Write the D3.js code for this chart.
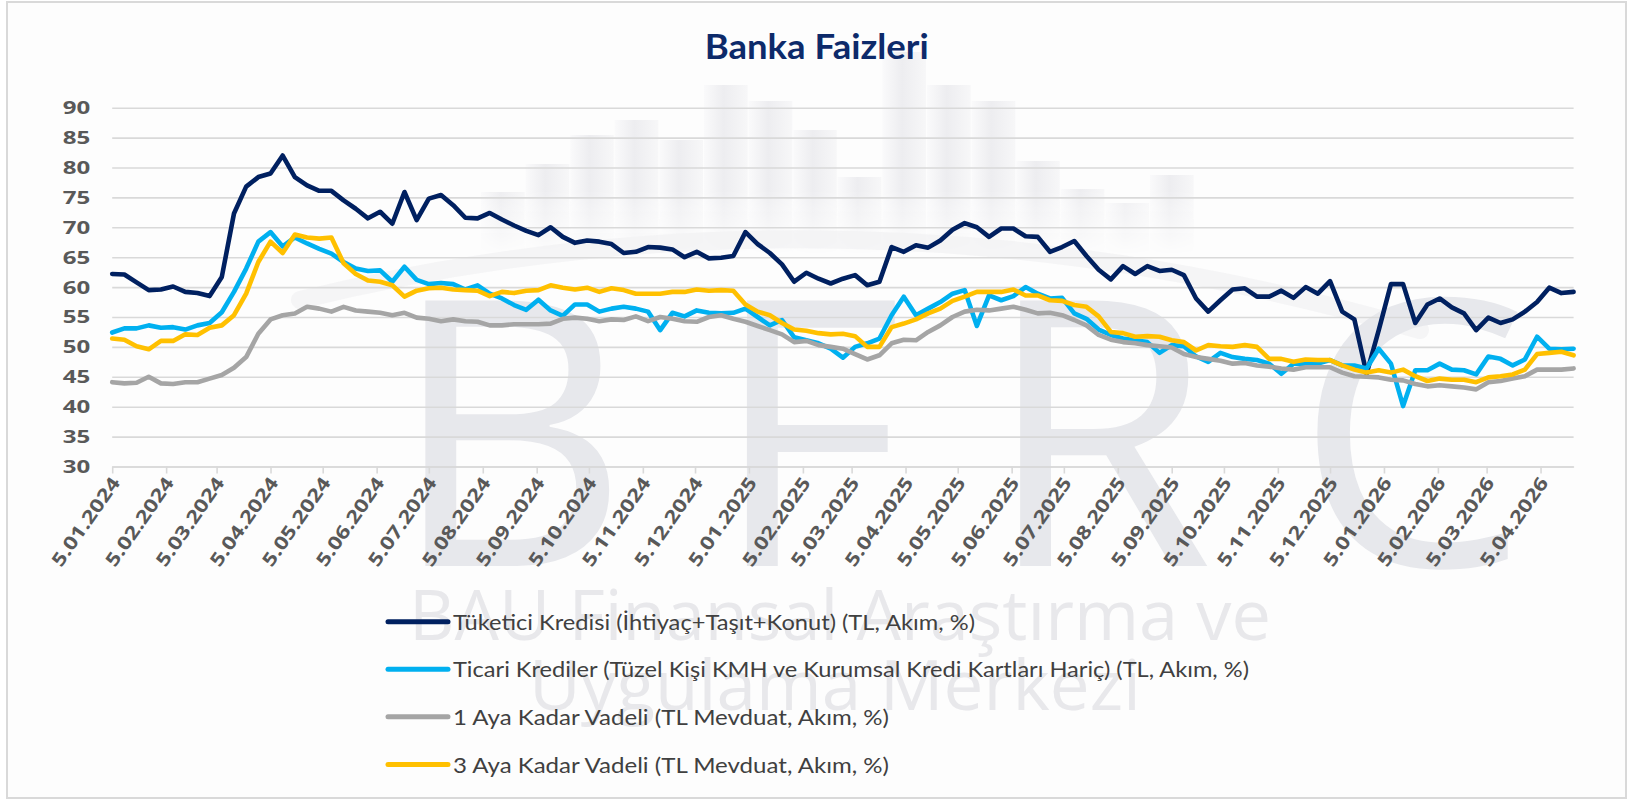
<!DOCTYPE html>
<html>
<head>
<meta charset="utf-8">
<script src="https://cdn.jsdelivr.net/npm/d3@7"></script>
<style>
  html, body { margin: 0; padding: 0; background: #ffffff; }
  svg { display: block; }
</style>
</head>
<body>
<svg id="chart" width="1630" height="802"></svg>
<script>
// Weekly observations (Fridays), first and last week
const firstWeek = "2024-01-05";
const lastWeek = "2026-04-24";

// Month labels on the date axis
const tickLabels = [
  "5.01.2024","5.02.2024","5.03.2024","5.04.2024","5.05.2024","5.06.2024",
  "5.07.2024","5.08.2024","5.09.2024","5.10.2024","5.11.2024","5.12.2024",
  "5.01.2025","5.02.2025","5.03.2025","5.04.2025","5.05.2025","5.06.2025",
  "5.07.2025","5.08.2025","5.09.2025","5.10.2025","5.11.2025","5.12.2025",
  "5.01.2026","5.02.2026","5.03.2026","5.04.2026"
];

const yTicks = [30, 35, 40, 45, 50, 55, 60, 65, 70, 75, 80, 85, 90];

const seriesNames = [
  "Tüketici Kredisi (İhtiyaç+Taşıt+Konut) (TL, Akım, %)",
  "Ticari Krediler (Tüzel Kişi KMH ve Kurumsal Kredi Kartları Hariç) (TL, Akım, %)",
  "1 Aya Kadar Vadeli (TL Mevduat, Akım, %)",
  "3 Aya Kadar Vadeli (TL Mevduat, Akım, %)"
];

// Weekly rates, %
const tuketici = [
  62.2,62.1,60.8,59.5,59.6,60.1,59.2,59.0,58.5,61.7,72.3,76.8,78.4,79.0,82.0,78.4,77.0,76.1,76.1,74.5,73.1,71.5,72.6,70.6,75.9,71.2,
  74.8,75.4,73.7,71.6,71.5,72.4,71.3,70.3,69.4,68.7,70.0,68.4,67.4,67.8,67.6,67.2,65.7,65.9,66.7,66.6,66.3,65.0,65.9,64.8,64.9,
  65.2,69.2,67.2,65.7,63.8,60.9,62.4,61.4,60.6,61.4,62.0,60.3,60.9,66.7,65.9,67.0,66.6,67.8,69.6,70.7,70.0,68.4,69.8,69.8,68.5,
  68.4,65.9,66.7,67.7,65.2,62.9,61.3,63.5,62.2,63.5,62.7,62.9,62.0,58.1,55.9,57.8,59.6,59.8,58.4,58.4,59.4,58.2,
  60.0,58.9,61.0,55.9,54.6,45.5,52.8,60.5,60.5,54.0,57.1,58.1,56.6,55.6,52.8,54.9,54.0,54.6,55.9,57.5,59.9,59.0,59.2
];
const ticari = [
  52.4,53.1,53.1,53.6,53.2,53.3,52.9,53.6,54.0,55.8,59.2,63.1,67.6,69.2,66.8,68.3,67.3,66.4,65.6,64.2,63.1,62.7,62.8,60.9,63.4,61.2,
  60.5,60.7,60.5,59.6,60.3,58.9,58.1,57.0,56.2,57.9,56.1,55.2,57.1,57.1,55.9,56.4,56.7,56.4,55.9,52.8,55.7,55.1,56.1,55.7,55.6,
  55.7,56.4,55.0,53.6,54.5,51.6,51.1,50.6,49.7,48.2,50.0,50.6,51.4,55.3,58.4,55.3,56.4,57.5,58.9,59.5,53.5,58.6,57.8,58.5,60.0,
  58.9,58.1,58.2,55.6,54.7,52.9,52.0,51.4,51.1,50.8,49.0,50.3,50.1,48.4,47.5,49.0,48.3,48.0,47.8,47.2,45.5,47.2,
  47.2,47.2,47.8,46.9,46.9,46.4,49.7,47.2,40.1,46.1,46.1,47.2,46.2,46.1,45.4,48.4,48.0,46.9,47.9,51.7,49.7,49.6,49.7
];
const vadeli1Ay = [
  44.1,43.9,44.0,45.0,43.9,43.8,44.1,44.1,44.7,45.3,46.5,48.3,52.2,54.6,55.3,55.6,56.7,56.4,55.9,56.7,56.1,55.9,55.7,55.3,55.7,54.9,
  54.7,54.3,54.6,54.3,54.2,53.6,53.6,53.8,53.8,53.8,53.9,54.7,54.9,54.7,54.3,54.6,54.5,55.1,54.3,55.0,54.7,54.3,54.2,55.0,55.3,
  54.7,54.2,53.5,52.8,52.1,50.8,51.0,50.3,50.0,49.7,48.8,47.9,48.6,50.6,51.2,51.1,52.5,53.6,55.0,55.9,56.2,56.1,56.4,56.7,56.2,
  55.6,55.7,55.3,54.5,53.6,52.0,51.2,50.8,50.6,50.3,50.1,49.9,48.8,48.3,48.0,47.7,47.2,47.3,46.9,46.7,46.4,46.2,
  46.6,46.6,46.6,45.7,45.1,45.0,44.9,44.5,44.4,43.8,43.4,43.6,43.4,43.2,42.9,44.1,44.3,44.7,45.1,46.2,46.2,46.2,46.4
];
const vadeli3Ay = [
  51.4,51.2,50.1,49.6,51.0,51.0,52.1,52.0,53.2,53.6,55.3,58.9,64.2,67.6,65.7,68.8,68.3,68.1,68.3,64.0,62.2,61.1,60.9,60.3,58.4,59.4,
  59.8,59.9,59.6,59.5,59.4,58.5,59.2,59.0,59.4,59.5,60.3,59.9,59.6,59.9,59.2,59.8,59.5,58.9,58.9,58.9,59.2,59.2,59.6,59.4,59.5,
  59.4,57.1,55.9,55.3,54.0,52.9,52.7,52.3,52.1,52.2,51.8,50.0,50.0,53.3,53.9,54.6,55.6,56.4,57.7,58.4,59.2,59.2,59.2,59.6,58.6,
  58.6,57.8,57.7,57.0,56.7,55.1,52.5,52.3,51.7,51.8,51.7,51.1,50.8,49.4,50.3,50.1,50.0,50.3,50.0,48.0,48.0,47.5,
  47.9,47.8,47.8,46.9,46.2,45.7,46.1,45.7,46.2,45.1,44.3,44.7,44.5,44.5,44.1,44.9,45.1,45.4,46.2,48.8,49.0,49.2,48.6
];

const seriesColors = ["#002060", "#00b0f0", "#a5a5a5", "#ffc000"];

// ---------------------------------------------------------------------------
const W = 1630, H = 802;
const plot = { left: 112.2, right: 1573.6, top: 107.7, bottom: 466.5 };

const parseISO = d3.timeParse("%Y-%m-%d");
const parseTick = d3.timeParse("%-d.%m.%Y");
const weeks = d3.timeFriday.range(parseISO(firstWeek), d3.timeDay.offset(parseISO(lastWeek), 1));
const tickDates = tickLabels.map(parseTick);

const series = [tuketici, ticari, vadeli1Ay, vadeli3Ay].map((values, k) => ({
  name: seriesNames[k],
  color: seriesColors[k],
  points: values.map((v, i) => ({ date: weeks[i], value: v }))
}));

const x = d3.scaleTime()
  .domain([weeks[0], weeks[weeks.length - 1]])
  .range([plot.left, plot.right]);
const y = d3.scaleLinear()
  .domain([30, 90])
  .range([plot.bottom, plot.top]);

const svg = d3.select("#chart");
const defs = svg.append("defs");

// Chart frame
svg.append("rect")
  .attr("x", 7).attr("y", 2).attr("width", 1619).attr("height", 796)
  .attr("fill", "#fdfdfd").attr("stroke", "#d9d9d9").attr("stroke-width", 2);

// ---- Background watermark (institute logo) --------------------------------
const colGrad = defs.append("linearGradient").attr("id", "colGrad")
  .attr("x1", "0").attr("x2", "1").attr("y1", "0").attr("y2", "0");
colGrad.append("stop").attr("offset", "0").attr("stop-color", "#fafafb");
colGrad.append("stop").attr("offset", "0.45").attr("stop-color", "#ededf0");
colGrad.append("stop").attr("offset", "1").attr("stop-color", "#f7f7f8");

const fade = defs.append("linearGradient").attr("id", "fadeGrad")
  .attr("gradientUnits", "userSpaceOnUse")
  .attr("x1", 0).attr("x2", 0).attr("y1", 190).attr("y2", 255);
fade.append("stop").attr("offset", "0").attr("stop-color", "#fff");
fade.append("stop").attr("offset", "1").attr("stop-color", "#000");
defs.append("mask").attr("id", "logoFade")
  .append("rect").attr("x", 0).attr("y", 0).attr("width", W).attr("height", H)
  .attr("fill", "url(#fadeGrad)");

const logo = svg.append("g").attr("class", "watermark");
const logoColumns = { start: 481, step: 44.6, tops: [192,164,135,120,140,85,101,130,177,52,85,101,161,189,203,175] };
logo.append("g").attr("mask", "url(#logoFade)")
  .selectAll("rect").data(logoColumns.tops).join("rect")
  .attr("x", (t, i) => logoColumns.start + i * logoColumns.step)
  .attr("y", t => t)
  .attr("width", logoColumns.step - 1)
  .attr("height", t => 260 - t)
  .attr("fill", "url(#colGrad)");

logo.append("path")
  .attr("d", "M 300 300 Q 850 165 1420 330")
  .attr("fill", "none").attr("stroke", "#f2f2f4").attr("stroke-width", 18)
  .attr("stroke-linecap", "round").attr("opacity", 0.8);

logo.append("text")
  .attr("x", 959).attr("y", 566)
  .attr("text-anchor", "middle")
  .attr("font-family", "'Open Sans', sans-serif").attr("font-size", 372)
  .attr("fill", "#e7e8ec")
  .attr("textLength", 1140).attr("lengthAdjust", "spacing")
  .text("BFRC");

logo.append("text")
  .attr("x", 840).attr("y", 640)
  .attr("text-anchor", "middle")
  .attr("font-family", "'Open Sans', sans-serif").attr("font-size", 70)
  .attr("fill", "#e8e8eb")
  .attr("textLength", 862).attr("lengthAdjust", "spacingAndGlyphs")
  .text("BAU Finansal Araştırma ve");

logo.append("text")
  .attr("x", 835).attr("y", 710)
  .attr("text-anchor", "middle")
  .attr("font-family", "'Open Sans', sans-serif").attr("font-size", 70)
  .attr("fill", "#e8e8eb")
  .attr("textLength", 612).attr("lengthAdjust", "spacingAndGlyphs")
  .text("Uygulama Merkezi");

// ---- Title -----------------------------------------------------------------
svg.append("text")
  .attr("x", 816.7).attr("y", 59.3)
  .attr("text-anchor", "middle")
  .attr("font-family", "Lato, sans-serif").attr("font-weight", 700).attr("font-size", 34)
  .attr("fill", "#0d2a6a")
  .attr("textLength", 224).attr("lengthAdjust", "spacingAndGlyphs")
  .text("Banka Faizleri");

// ---- Y axis with gridlines -------------------------------------------------
const yAxis = svg.append("g")
  .attr("transform", `translate(${plot.left},0)`)
  .call(d3.axisLeft(y).tickValues(yTicks).tickSize(-(plot.right - plot.left)).tickPadding(22));
yAxis.select(".domain").remove();
yAxis.selectAll(".tick line").attr("stroke", "#d9d9d9").attr("stroke-width", 1.6);
yAxis.selectAll(".tick text")
  .attr("font-family", "'Open Sans', sans-serif").attr("font-weight", 700).attr("font-size", 18.5)
  .attr("fill", "#595959")
  .attr("textLength", 27.5).attr("lengthAdjust", "spacingAndGlyphs");

// ---- X axis (dates) --------------------------------------------------------
const xAxis = svg.append("g")
  .attr("transform", `translate(0,${plot.bottom})`)
  .call(d3.axisBottom(x).tickValues(tickDates).tickSizeInner(7).tickSizeOuter(0)
    .tickFormat((d, i) => tickLabels[i]));
xAxis.select(".domain").attr("stroke", "#d9d9d9").attr("stroke-width", 1.6);
xAxis.selectAll(".tick line").attr("stroke", "#d9d9d9").attr("stroke-width", 1.6);
xAxis.selectAll(".tick text")
  .attr("x", 0).attr("y", 0).attr("dy", null)
  .attr("transform", "translate(2,12) rotate(-55)")
  .attr("text-anchor", "end")
  .attr("dominant-baseline", "central")
  .attr("font-family", "'Open Sans', sans-serif").attr("font-weight", 700).attr("font-size", 18.5)
  .attr("fill", "#595959")
  .attr("textLength", 104).attr("lengthAdjust", "spacingAndGlyphs");

// ---- Series lines ----------------------------------------------------------
const line = d3.line().x(d => x(d.date)).y(d => y(d.value));
svg.append("g").attr("class", "series")
  .selectAll("path").data(series).join("path")
  .attr("d", s => line(s.points))
  .attr("fill", "none")
  .attr("stroke", s => s.color)
  .attr("stroke-width", 4.6)
  .attr("stroke-linejoin", "round")
  .attr("stroke-linecap", "round");

// ---- Legend ----------------------------------------------------------------
const legendRows = [621.7, 669.2, 716.8, 764.5];
const legendWidths = [522, 796, 436, 436];
const legend = svg.append("g").attr("class", "legend")
  .selectAll("g").data(series).join("g")
  .attr("transform", (s, i) => `translate(388,${legendRows[i]})`);
legend.append("line")
  .attr("x1", 0).attr("x2", 60).attr("y1", 0).attr("y2", 0)
  .attr("stroke", s => s.color).attr("stroke-width", 5).attr("stroke-linecap", "round");
legend.append("text")
  .attr("x", 65).attr("y", 0)
  .attr("dominant-baseline", "central")
  .attr("font-family", "Lato, sans-serif").attr("font-size", 21.5)
  .attr("fill", "#404040")
  .attr("textLength", (s, i) => legendWidths[i]).attr("lengthAdjust", "spacingAndGlyphs")
  .text(s => s.name);
</script>
</body>
</html>
